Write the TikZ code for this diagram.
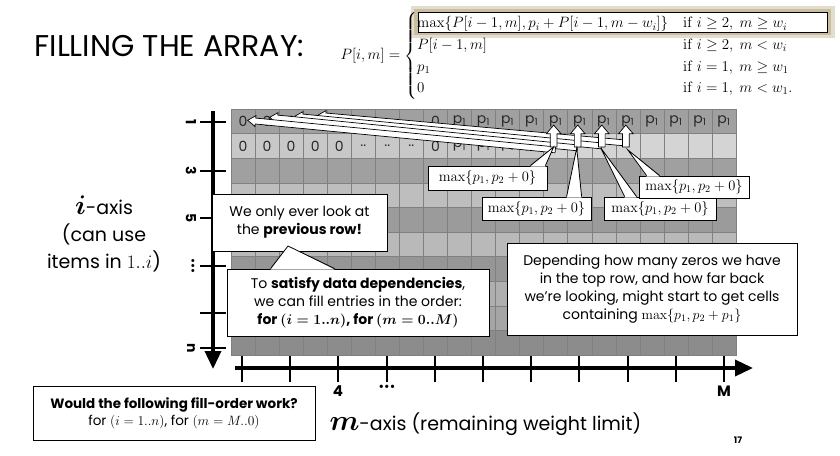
\documentclass[tikz,border=0pt]{standalone}
\usepackage{fix-cm}
\usepackage{amsmath}
\usepackage[no-math]{fontspec}
\setmainfont{Poppins}
\usetikzlibrary{arrows.meta,shapes.arrows,calc}
\definecolor{gridline}{RGB}{128,128,128}
\definecolor{cellink}{RGB}{40,40,40}
\definecolor{glow}{RGB}{165,145,95}

\begin{document}
\begin{tikzpicture}[x=1pt, y=-1pt,
    cell/.style={draw=gridline, line width=0.5pt, minimum width=24.05pt, minimum height=24.6pt, inner sep=0pt, outer sep=0pt},
    celltext/.style={font=\fontsize{14}{16}\selectfont, text=cellink},
    box/.style={draw, fill=white, line width=0.8pt, inner sep=0pt, align=center, font=\fontsize{14}{18}\selectfont},
    maxbox/.style={box, font=\fontsize{14.5}{16}\selectfont},
    longarrow/.style={single arrow, draw, fill=white, line width=0.7pt, inner sep=2.6pt, single arrow head extend=2.5pt, single arrow tip angle=70, anchor=tail},
    uparrow/.style={single arrow, draw, fill=white, line width=0.7pt, inner sep=3pt, single arrow head extend=4pt, single arrow tip angle=80, anchor=tail, minimum height=22pt, rotate=90},
    axis/.style={line width=3.5pt, -{Triangle[length=18pt, width=16pt]}},
    tick/.style={line width=2pt},
    ilabel/.style={font=\bfseries\fontsize{14}{14}\selectfont, rotate=-90},
    mlabel/.style={font=\bfseries\fontsize{15}{15}\selectfont}
  ]
  \fill[white] (0,0) rectangle (840,455);
  \useasboundingbox (0,0) rectangle (840,455);

  \node[anchor=west, font=\fontsize{30}{32}\selectfont] (title) at (31,46) {FILLING THE ARRAY:};

  \fill[glow, opacity=0.3] (411,6) rectangle (835,38);
  \fill[glow, opacity=0.4] (414,9) rectangle (831,35);
  \fill[white] (418,12) rectangle (827,32);
  \node[anchor=west, font=\fontsize{15}{18}\selectfont] (rec) at (337,56)
    {$P[i,m]=\begin{cases}\max\{P[i-1,m],p_i+P[i-1,m-w_i]\} & \mathrm{if}\ i\ge 2,\ m\ge w_i\\
      P[i-1,m] & \mathrm{if}\ i\ge 2,\ m<w_i\\
      p_1 & \mathrm{if}\ i=1,\ m\ge w_1\\
      0 & \mathrm{if}\ i=1,\ m<w_1.\end{cases}$};
  \draw[line width=1pt] (418,12) rectangle (827,32);

  \foreach \r/\shade in {1/160,2/200,3/160,4/190,5/155,6/185,7/150,8/175,9/165,10/140}
    \foreach \k in {1,...,21} {
      \pgfmathtruncatemacro{\s}{(\r==2 && \k>13) ? 212 : \shade}
      \node[cell, fill={rgb,255:red,\s;green,\s;blue,\s}] (c-\r-\k) at (218.975+24.05*\k, 96.7+24.6*\r) {};
    }

  \foreach \k/\t in {1/0,2/0,3/0,4/0,5/..,6/..,7/..,8/..,9/0}
    \node[celltext] at (c-1-\k) {\t};
  \foreach \k in {10,...,21}
    \node[celltext] at (c-1-\k) {p\textsubscript{1}};
  \foreach \k/\t in {1/0,2/0,3/0,4/0,5/0,6/..,7/..,8/..,9/0}
    \node[celltext] at (c-2-\k) {\t};
  \foreach \k in {10,...,13}
    \node[celltext] at (c-2-\k) {p\textsubscript{1}};

  \coordinate (t1) at ($(c-2-14)+(0,4)$);
  \coordinate (t2) at ($(c-2-15)+(-2,2)$);
  \coordinate (t3) at ($(c-2-16)+(-2,0)$);
  \coordinate (t4) at ($(c-2-17)+(-3,-3)$);
  \coordinate (h1) at ($(c-1-1)+(5,-1)$);
  \coordinate (h2) at ($(c-1-2)+(3,-4)$);
  \coordinate (h3) at ($(c-1-3)+(4,-5)$);
  \coordinate (h4) at ($(c-1-4)+(3,-6)$);
  \foreach \k in {4,3,2,1}
    \path let \p1=(t\k), \p2=(h\k), \n1={atan2(\y2-\y1,\x2-\x1)}, \n2={veclen(\x2-\x1,\y2-\y1)} in
      node[longarrow, minimum height=\n2, rotate=\n1] (long\k) at (t\k) {};
  \foreach \k in {14,...,17}
    \node[uparrow] (up\k) at ($(c-2-\k)+(-2,1.5)$) {};

  \coordinate (itop) at (213,111);
  \coordinate (ibot) at (213,369);
  \coordinate (mleft) at (235,368);
  \coordinate (mright) at (753,368);
  \draw[axis] (itop) -- (ibot);
  \draw[axis] (mleft) -- (mright);
  \foreach \y in {122,171,218,266,313,348}
    \draw[tick] (200,\y) -- (226,\y);
  \foreach \y/\l in {122/1,171/3,218/5,348/n}
    \node[ilabel] (ilab\l) at (191,\y) {\l};
  \node[ilabel] (ildots) at (192,266) {\fontsize{10}{10}\selectfont\textbullet\textbullet\textbullet};
  \foreach \j in {0,...,10}
    \draw[tick] (242+48.2*\j,356) -- (242+48.2*\j,382);
  \node[mlabel] (mlab4) at (338,391) {4};
  \node[mlabel] (mlabdots) at (387,388) {\fontsize{11}{11}\selectfont\textbullet\textbullet\textbullet};
  \node[mlabel] (mlabM) at (724,391) {M};

  \node[align=center, font=\fontsize{19}{27}\selectfont] (iaxis) at (104,234)
    {{\fontsize{27}{27}\selectfont$\boldsymbol{i}$}-axis\\(can use\\items in $1..i$)};
  \node[anchor=west, font=\fontsize{19}{27}\selectfont] (maxis) at (326,424)
    {{\fontsize{29}{27}\selectfont$\boldsymbol{m}$}-axis (remaining weight limit)};

  \node[maxbox, minimum width=119pt, minimum height=24pt] (max1) at (487.5,178) {$\max\{p_1,p_2+0\}$};
  \node[maxbox, minimum width=109pt, minimum height=23pt] (max2) at (536.5,208.5) {$\max\{p_1,p_2+0\}$};
  \node[maxbox, minimum width=112pt, minimum height=23pt] (max3) at (660,208.5) {$\max\{p_1,p_2+0\}$};
  \node[maxbox, minimum width=110pt, minimum height=22pt] (max4) at (694,187) {$\max\{p_1,p_2+0\}$};
  \coordinate (p1) at ($(c-2-14)+(-2,1)$);
  \coordinate (p2) at ($(c-2-15)+(-3,2)$);
  \coordinate (p3) at ($(c-2-16)+(-3,2)$);
  \coordinate (p4) at ($(c-2-17)+(0,4)$);
  \fill[white] ($(max1.north east)+(-17,1)$) -- (p1) -- ($(max1.north east)+(-2,1)$) -- cycle;
  \draw[line width=0.8pt] ($(max1.north east)+(-17,0)$) -- (p1) -- ($(max1.north east)+(-2,0)$);
  \fill[white] ($(max2.north west)+(85,1)$) -- (p2) -- ($(max2.north west)+(100,1)$) -- cycle;
  \draw[line width=0.8pt] ($(max2.north west)+(85,0)$) -- (p2) -- ($(max2.north west)+(100,0)$);
  \fill[white] ($(max3.north west)+(21,1)$) -- (p3) -- ($(max3.north west)+(33,1)$) -- cycle;
  \draw[line width=0.8pt] ($(max3.north west)+(21,0)$) -- (p3) -- ($(max3.north west)+(33,0)$);
  \fill[white] ($(max4.north west)+(8,1)$) -- (p4) -- ($(max4.north west)+(21,1)$) -- cycle;
  \draw[line width=0.8pt] ($(max4.north west)+(8,0)$) -- (p4) -- ($(max4.north west)+(21,0)$);

  \node[box, minimum width=175pt, minimum height=57pt] (only) at (299.5,222.5)
    {We only ever look at\\the \textbf{previous row!}};
  \node[box, minimum width=262pt, minimum height=67pt] (satisfy) at (358,302.5)
    {To \textbf{satisfy data dependencies},\\we can fill entries in the order:\\
     \textbf{for {\boldmath$(i=1..n)$}, for {\boldmath$(m=0..M)$}}};
  \coordinate (ponly) at (288,246);
  \fill[white] ($(satisfy.north west)+(44,1)$) -- (ponly) -- ($(satisfy.north west)+(108,1)$) -- cycle;
  \draw[line width=0.8pt] ($(satisfy.north west)+(44,0)$) -- (ponly) -- ($(satisfy.north west)+(108,0)$);

  \node[box, minimum width=290pt, minimum height=92pt] (depend) at (652,289)
    {Depending how many zeros we have\\in the top row, and how far back\\we're looking, might start to get cells\\containing $\max\{p_1,p_2+p_1\}$};

  \node[box, minimum width=282pt, minimum height=54pt, font=\fontsize{13.5}{17}\selectfont] (would) at (174,413)
    {\textbf{Would the following fill-order work?}\\for $(i=1..n)$, for $(m=M..0)$};

  \node[font=\bfseries\fontsize{9}{9}\selectfont] (page) at (738,440) {17};
\end{tikzpicture}
\end{document}
